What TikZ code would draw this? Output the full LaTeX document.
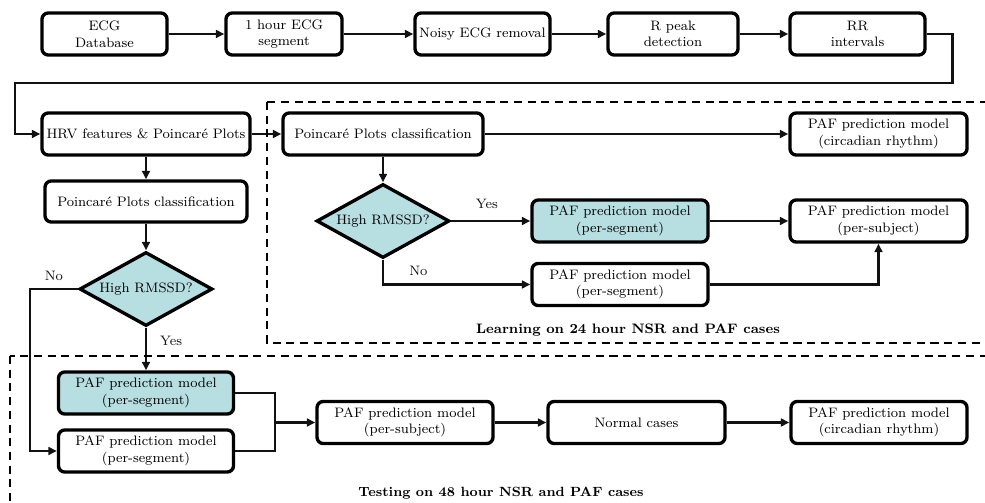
\documentclass[tikz,border=0pt]{standalone}
\usepackage{xcolor}
\usetikzlibrary{arrows.meta,shapes.geometric}
\definecolor{boxcyan}{HTML}{B7DEE1}
\definecolor{linegray}{HTML}{111111}

\begin{document}
\begin{tikzpicture}[x=0.02cm, y=-0.02cm, >={Triangle[length=4.8pt,width=4.4pt]},
    line width=1.4pt, font=\fontsize{7.8}{9.4}\selectfont,
    stage/.style={draw, line width=1.9pt, rounded corners=3.5pt, align=center,
      minimum height=0.84cm, inner sep=1pt},
    pafbox/.style={stage, fill=boxcyan},
    query/.style={diamond, draw, line width=1.9pt, fill=boxcyan, aspect=1.8,
      minimum width=2.66cm, minimum height=1.48cm, inner sep=0pt},
    flow/.style={->, linegray},
    zone/.style={dashed, line width=1.7pt, dash pattern=on 4.6pt off 3.2pt}]
  \useasboundingbox (0,0) rectangle (985,503);
  % top row
  \node[stage, minimum width=2.5cm] (db) at (104.5,34) {ECG\\Database};
  \node[stage, minimum width=2.32cm] (seg) at (284,34) {1 hour ECG\\segment};
  \node[stage, minimum width=2.7cm] (noisy) at (482.5,34) {Noisy ECG removal};
  \node[stage, minimum width=2.6cm] (rpeak) at (673,34) {R peak\\detection};
  \node[stage, minimum width=2.7cm] (rr) at (857.5,34) {RR\\intervals};
  \coordinate (turn) at (15,83);
  % features and learning part
  \node[stage, minimum width=4.16cm] (hrv) at (146,134) {HRV features \& Poincar\'e Plots};
  \node[stage, minimum width=4cm] (ppcR) at (383,134) {Poincar\'e Plots classification};
  \node[stage, minimum width=3.54cm] (circR) at (878.5,134) {PAF prediction model\\(circadian rhythm)};
  \node[query] (diaR) at (383,221) {High RMSSD?};
  \node[pafbox, minimum width=3.52cm] (yesR) at (620,221) {PAF prediction model\\(per-segment)};
  \node[stage, minimum width=3.54cm] (subjR) at (878.5,221) {PAF prediction model\\(per-subject)};
  \node[stage, minimum width=3.52cm] (noR) at (620,284.5) {PAF prediction model\\(per-segment)};
  % testing part
  \node[stage, minimum width=4.04cm, minimum height=0.82cm] (ppcL) at (146,201.5) {Poincar\'e Plots classification};
  \node[query] (diaL) at (146,289) {High RMSSD?};
  \node[pafbox, minimum width=3.5cm] (yesL) at (146,393) {PAF prediction model\\(per-segment)};
  \node[stage, minimum width=3.5cm] (noL) at (146,451) {PAF prediction model\\(per-segment)};
  \node[stage, minimum width=3.52cm] (subjL) at (405,422.5) {PAF prediction model\\(per-subject)};
  \node[stage, minimum width=3.54cm] (normal) at (636.5,422.5) {Normal cases};
  \node[stage, minimum width=3.52cm] (circL) at (879,422.5) {PAF prediction model\\(circadian rhythm)};
  \coordinate (merge) at (275,422.5);

  \draw[flow] (db) -- (seg);
  \draw[flow] (seg) -- (noisy);
  \draw[flow] (noisy) -- (rpeak);
  \draw[flow] (rpeak) -- (rr);
  \draw[flow] (rr.east) -- ++(26,0) |- (turn) |- (hrv.west);
  \draw[flow] (hrv) -- (ppcR);
  \draw[flow] (ppcR) -- (circR);
  \draw[flow] (ppcR) -- (diaR);
  \draw[flow] (diaR) -- node[above, pos=0.45, yshift=3pt] {Yes} (yesR);
  \draw[flow] (yesR) -- (subjR);
  \draw[flow] (diaR.south) |- node[above, pos=0.62, yshift=1pt] {No} (noR.west);
  \draw[flow] (noR.east) -| (subjR.south);
  \draw[flow] (hrv) -- (ppcL);
  \draw[flow] (ppcL) -- (diaL);
  \draw[flow] (diaL.west) -- ++(-48,0) node[above, pos=0.5, yshift=1pt] {No} |- (noL.west);
  \draw[flow] (diaL) -- node[right, pos=0.3, xshift=4pt] {Yes} (yesL);
  \draw[linegray] (yesL.east) -| (merge) |- (noL.east);
  \draw[flow, line width=2pt] (merge) -- (subjL);
  \draw[flow] (subjL) -- (normal);
  \draw[flow] (normal) -- (circL);

  % dashed zones, cut by the page edge
  \begin{scope}
    \clip (0,0) rectangle (985,503);
    \draw[zone] (267,102) rectangle (1010,343);
    \draw[zone] (10,356) rectangle (1010,530);
  \end{scope}
  \node[font=\fontsize{7.8}{9.4}\selectfont\bfseries] (learn) at (628,330) {Learning on 24 hour NSR and PAF cases};
  \node[font=\fontsize{7.6}{9.4}\selectfont\bfseries] (test) at (501,493) {Testing on 48 hour NSR and PAF cases};
\end{tikzpicture}
\end{document}
